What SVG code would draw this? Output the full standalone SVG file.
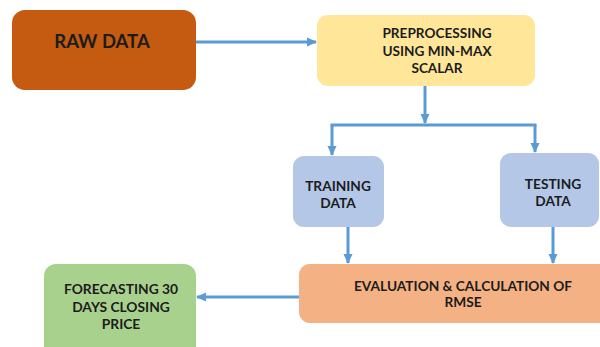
<svg xmlns="http://www.w3.org/2000/svg" width="600" height="347" viewBox="0 0 600 347">
<style>
  .lbl { font-family: Lato, "Open Sans", "Liberation Sans", sans-serif; font-weight: bold; fill: #1c1c1c; text-anchor: middle; }
  .conn { stroke: #5B9BD5; stroke-width: 3; fill: none; }
</style>
<defs>
  <marker id="ah" markerUnits="userSpaceOnUse" markerWidth="10" markerHeight="10" viewBox="0 0 10 10" refX="9" refY="5" orient="auto">
    <path d="M0,0.5 L10,5 L0,9.5 Z" fill="#5B9BD5"/>
  </marker>
</defs>
<rect width="600" height="347" fill="#ffffff"/>
<g id="connectors">
  <line class="conn" x1="196" y1="42" x2="316" y2="42" marker-end="url(#ah)"/>
  <line class="conn" x1="425" y1="86" x2="425" y2="123" marker-end="url(#ah)"/>
  <line class="conn" x1="330.5" y1="125" x2="536.5" y2="125"/>
  <line class="conn" x1="332" y1="125" x2="332" y2="155" marker-end="url(#ah)"/>
  <line class="conn" x1="535" y1="125" x2="535" y2="152" marker-end="url(#ah)"/>
  <line class="conn" x1="348" y1="227" x2="348" y2="263" marker-end="url(#ah)"/>
  <line class="conn" x1="553" y1="227" x2="553" y2="263" marker-end="url(#ah)"/>
  <line class="conn" x1="300" y1="297" x2="197" y2="297" marker-end="url(#ah)"/>
</g>
<g id="raw-data">
  <rect x="12" y="10" width="184" height="80" rx="13" fill="#C55A11"/>
  <text class="lbl" x="102" y="48" font-size="18.5">RAW DATA</text>
</g>
<g id="preprocessing">
  <rect x="317" y="15" width="218" height="71" rx="11" fill="#FFE699"/>
  <text class="lbl" x="437" y="38" font-size="13.6">PREPROCESSING</text>
  <text class="lbl" x="437" y="56" font-size="13.6">USING MIN-MAX</text>
  <text class="lbl" x="437" y="73" font-size="13.6">SCALAR</text>
</g>
<g id="training-data">
  <rect x="293" y="156" width="91" height="71" rx="11" fill="#B4C7E7"/>
  <text class="lbl" x="338" y="191" font-size="13.7">TRAINING</text>
  <text class="lbl" x="338" y="208" font-size="13.7">DATA</text>
</g>
<g id="testing-data">
  <rect x="500" y="153" width="99" height="74" rx="11" fill="#B4C7E7"/>
  <text class="lbl" x="553" y="189" font-size="13.7">TESTING</text>
  <text class="lbl" x="553" y="206" font-size="13.7">DATA</text>
</g>
<g id="evaluation">
  <rect x="299" y="264" width="320" height="59" rx="11" fill="#F4B183"/>
  <text class="lbl" x="463" y="291" font-size="13.7">EVALUATION &amp; CALCULATION OF</text>
  <text class="lbl" x="463" y="307" font-size="13.7">RMSE</text>
</g>
<g id="forecasting">
  <rect x="44" y="264" width="152" height="95" rx="12" fill="#A9D18E"/>
  <text class="lbl" x="121" y="294" font-size="13.8">FORECASTING 30</text>
  <text class="lbl" x="121" y="312" font-size="13.8">DAYS CLOSING</text>
  <text class="lbl" x="121" y="329" font-size="13.8">PRICE</text>
</g>
</svg>
